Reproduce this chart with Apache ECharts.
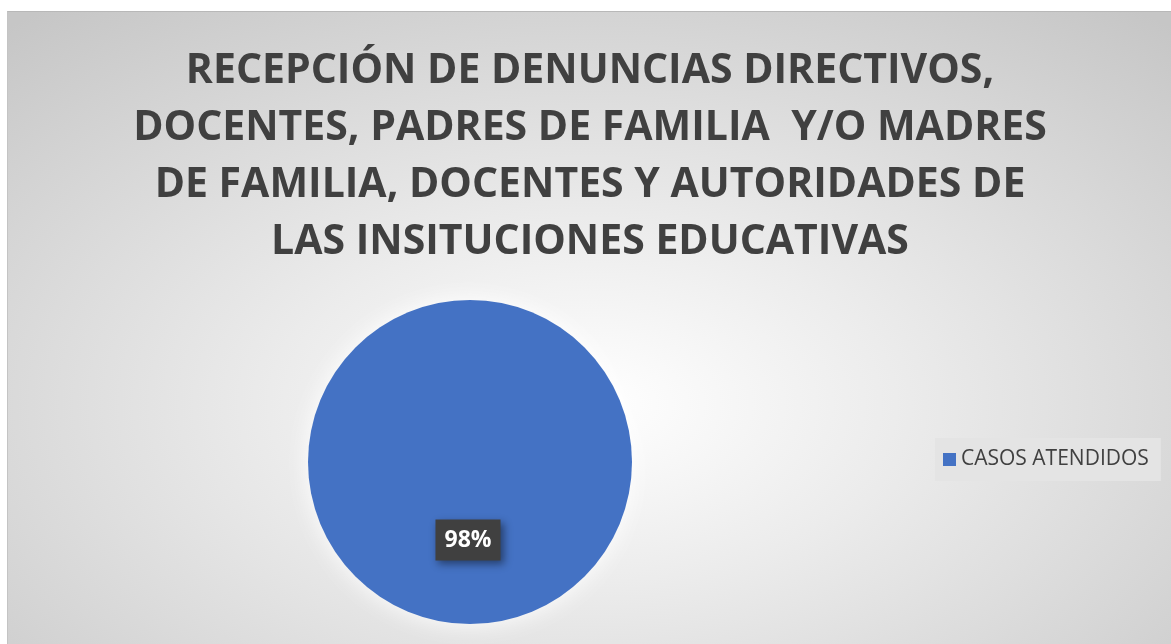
<!DOCTYPE html>
<html>
<head>
<meta charset="utf-8">
<script src="https://cdn.jsdelivr.net/npm/echarts@6/dist/echarts.min.js"></script>
<style>
  html, body { margin: 0; padding: 0; background: #fff; width: 1171px; height: 644px; overflow: hidden; }
  #chart {
    position: absolute; left: 7px; top: 11px; width: 1164px; height: 633px;
    border-top: 1px solid #b8b8b8; border-left: 1px solid #c4c4c4;
    background: radial-gradient(ellipse 75% 80% at 50% 62%, #ffffff 0%, #ececec 35%, #c6c6c6 100%);
  }
</style>
</head>
<body>
<div id="chart"></div>
<script>
const titleText = 'RECEPCIÓN DE DENUNCIAS DIRECTIVOS,\nDOCENTES, PADRES DE FAMILIA  Y/O MADRES\nDE FAMILIA, DOCENTES Y AUTORIDADES DE\nLAS INSITUCIONES EDUCATIVAS';
const categories = ['CASOS ATENDIDOS'];
const values = [98];

const chart = echarts.init(document.getElementById('chart'));

const option = {
    backgroundColor: 'transparent',
    title: {
        text: titleText,
        left: 'center',
        top: 26,
        textStyle: {
            fontFamily: 'Open Sans',
            fontWeight: 'bold',
            fontSize: 41,
            lineHeight: 57,
            color: '#404040'
        }
    },
    legend: {
        data: categories,
        orient: 'vertical',
        left: 927,
        top: 426,
        backgroundColor: '#e4e4e4',
        padding: [11, 12, 11, 8],
        itemWidth: 13,
        itemHeight: 13,
        itemGap: 6,
        icon: 'rect',
        textStyle: {
            fontFamily: 'Open Sans',
            fontSize: 21,
            color: '#404040'
        }
    },
    series: [
        {
            type: 'pie',
            center: [462, 450],
            radius: 162,
            startAngle: 90,
            data: categories.map(function(name, i) {
                return { name: name, value: values[i] };
            }),
            itemStyle: {
                color: '#4472c4',
                shadowBlur: 25,
                shadowColor: 'rgba(255,255,255,0.95)'
            },
            label: {
                show: true,
                position: 'inside',
                formatter: '{c}%',
                offset: [-2, -6],
                fontFamily: 'Open Sans',
                fontWeight: 'bold',
                fontSize: 23,
                color: '#ffffff',
                backgroundColor: '#404040',
                padding: [10, 9, 8, 9],
                shadowBlur: 8,
                shadowOffsetX: 3,
                shadowOffsetY: 3,
                shadowColor: 'rgba(0,0,0,0.45)'
            },
            labelLine: { show: false },
            emphasis: { disabled: true }
        }
    ]
};

chart.setOption(option);

window.addEventListener('resize', function() {
    chart.resize();
});
</script>
</body>
</html>
